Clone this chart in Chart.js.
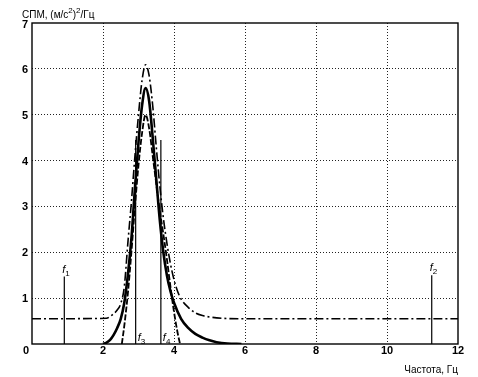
<!DOCTYPE html>
<html>
<head>
<meta charset="utf-8">
<script src="https://cdn.jsdelivr.net/npm/chart.js@4.4.0/dist/chart.umd.min.js"></script>
<style>
  html, body { margin: 0; padding: 0; background: #fff; }
</style>
</head>
<body>
<canvas id="spm" width="478" height="377"></canvas>
<script>
// axis ticks
const X_TICKS = [2, 4, 6, 8, 10, 12];
const Y_TICKS = [1, 2, 3, 4, 5, 6, 7];

// upper envelope (dash-dot)
const upperFreq = [0, 2.1, 2.2, 2.3, 2.4, 2.5, 2.6, 2.7, 2.8, 2.9, 3.0, 3.1, 3.2, 3.3, 3.4, 3.5, 3.6, 3.7, 3.8, 3.9, 4.0, 4.1, 4.2, 4.4, 4.6, 4.8, 5.0, 5.4, 6.0, 12];
const upperSpm = [0.55, 0.56, 0.6, 0.66, 0.74, 0.88, 1.25, 2.2, 3.1, 4.1, 5.0, 5.75, 6.09, 5.85, 5.2, 4.3, 3.45, 2.75, 2.2, 1.75, 1.4, 1.15, 0.98, 0.8, 0.68, 0.62, 0.59, 0.56, 0.55, 0.55];

// main spectrum (solid)
const mainFreq = [2.0, 2.1, 2.2, 2.3, 2.4, 2.5, 2.6, 2.7, 2.8, 2.9, 3.0, 3.1, 3.2, 3.3, 3.4, 3.5, 3.6, 3.7, 3.8, 3.9, 4.0, 4.2, 4.4, 4.6, 4.8, 5.0, 5.2, 5.5, 5.9];
const mainSpm = [0, 0.03, 0.09, 0.2, 0.35, 0.55, 0.9, 1.5, 2.3, 3.4, 4.4, 5.2, 5.58, 5.3, 4.5, 3.6, 2.7, 2.0, 1.5, 1.15, 0.9, 0.55, 0.35, 0.22, 0.14, 0.08, 0.04, 0.01, 0];

// lower envelope (dashed)
const lowerFreq = [2.53, 2.6, 2.7, 2.8, 2.9, 3.0, 3.1, 3.2, 3.3, 3.4, 3.5, 3.6, 3.7, 3.8, 3.9, 4.0, 4.1, 4.17];
const lowerSpm = [0, 0.4, 1.1, 2.0, 3.0, 3.9, 4.6, 5.0, 4.7, 4.1, 3.5, 2.9, 2.4, 1.85, 1.25, 0.7, 0.25, 0];

// marker frequencies f1..f4
const markerNames = ['1', '2', '3', '4'];
const markerFreq = [0.91, 11.26, 2.92, 3.63];
const markerTop = [1.47, 1.5, 4.45, 4.45];

const toPoints = (xs, ys) => xs.map((x, i) => ({ x: x, y: ys[i] }));

const curve = (data, width, dash) => ({
  data: data,
  borderColor: '#000',
  borderWidth: width,
  borderDash: dash,
  pointRadius: 0,
  fill: false,
  cubicInterpolationMode: 'monotone'
});

const datasets = [
  curve(toPoints(upperFreq, upperSpm), 1.6, [9, 3, 2, 3]),
  curve(toPoints(mainFreq, mainSpm), 2.6, []),
  curve(toPoints(lowerFreq, lowerSpm), 1.8, [6, 2])
];

markerFreq.forEach((f, i) => {
  datasets.push({
    data: [{ x: f, y: 0 }, { x: f, y: markerTop[i] }],
    borderColor: '#000',
    borderWidth: 1.2,
    pointRadius: 0,
    fill: false
  });
});

const FONT = '"Liberation Sans", Arial, sans-serif';

// frame, tick labels, titles and marker labels
const decorations = {
  id: 'decorations',
  afterDatasetsDraw(chart) {
    const { ctx, chartArea: a, scales: { x, y } } = chart;
    ctx.save();

    // frame
    ctx.strokeStyle = '#000';
    ctx.lineWidth = 1.4;
    ctx.strokeRect(a.left, a.top, a.right - a.left, a.bottom - a.top);

    ctx.fillStyle = '#000';
    ctx.font = 'bold 11px ' + FONT;

    // y tick labels
    ctx.textAlign = 'right';
    ctx.textBaseline = 'middle';
    Y_TICKS.forEach(v => {
      ctx.fillText(String(v), a.left - 4, y.getPixelForValue(v) + (v === 7 ? 2 : 1));
    });

    // x tick labels
    ctx.textAlign = 'center';
    X_TICKS.forEach(v => {
      ctx.fillText(String(v), x.getPixelForValue(v), a.bottom + 7);
    });
    ctx.fillText('0', a.left - 6, a.bottom + 7);

    // axis titles
    ctx.font = '10px ' + FONT;
    ctx.textAlign = 'left';
    ctx.textBaseline = 'alphabetic';
    const parts = [['СПМ, (м/с', 0], ['2', 1], [')', 0], ['2', 1], ['/Гц', 0]];
    let tx = 22;
    parts.forEach(([s, sup]) => {
      ctx.font = (sup ? '8px ' : '10px ') + FONT;
      ctx.fillText(s, tx, sup ? 13 : 18);
      tx += ctx.measureText(s).width;
    });

    ctx.font = '10px ' + FONT;
    ctx.textAlign = 'right';
    ctx.fillText('Частота, Гц', a.right, 373);

    // marker labels
    ctx.textAlign = 'left';
    markerFreq.forEach((f, i) => {
      const px = x.getPixelForValue(f);
      let bx, by;
      if (i < 2) {
        bx = px - 2;
        by = y.getPixelForValue(markerTop[i]) - 4;
      } else {
        bx = px + 2;
        by = a.bottom - 3;
      }
      ctx.font = 'italic 11px ' + FONT;
      ctx.fillText('f', bx, by);
      const w = ctx.measureText('f').width;
      ctx.font = '8px ' + FONT;
      ctx.fillText(markerNames[i], bx + w, by + 3);
    });

    ctx.restore();
  }
};

new Chart(document.getElementById('spm'), {
  type: 'line',
  data: { datasets: datasets },
  options: {
    responsive: false,
    animation: false,
    devicePixelRatio: 1,
    layout: { padding: { left: 32, right: 20, top: 23, bottom: 33 } },
    plugins: {
      legend: { display: false },
      tooltip: { enabled: false }
    },
    scales: {
      x: {
        type: 'linear',
        min: 0,
        max: 12,
        ticks: { display: false, stepSize: 2 },
        border: { display: false, dash: [1, 2] },
        grid: {
          drawTicks: false,
          lineWidth: 1,
          color: (c) => (c.tick && (c.tick.value === 0 || c.tick.value === 12)) ? 'rgba(0,0,0,0)' : '#222'
        }
      },
      y: {
        type: 'linear',
        min: 0,
        max: 7,
        ticks: { display: false, stepSize: 1 },
        border: { display: false, dash: [1, 2] },
        grid: {
          drawTicks: false,
          lineWidth: 1,
          color: (c) => (c.tick && (c.tick.value === 0 || c.tick.value === 7)) ? 'rgba(0,0,0,0)' : '#222'
        }
      }
    }
  },
  plugins: [decorations]
});
</script>
</body>
</html>
